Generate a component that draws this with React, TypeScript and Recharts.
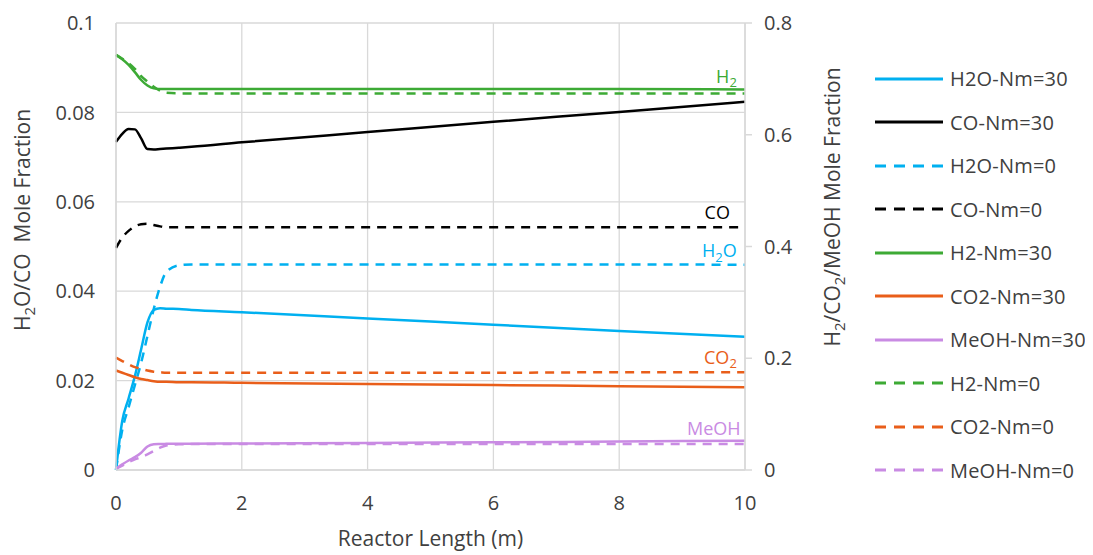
import { LineChart, Line, XAxis, YAxis, CartesianGrid, Legend, ReferenceDot } from 'recharts'

// reactor position (m)
const xPos = [0, 0.1, 0.2, 0.3, 0.4, 0.5, 0.6, 0.7, 0.8, 1, 1.2, 2, 4, 6, 8, 10]

// left axis series (H2O / CO)
const h2o30 = [0, 0.011, 0.016, 0.021, 0.027, 0.033, 0.0358, 0.0362, 0.0361, 0.036, 0.0358, 0.0353, 0.0339, 0.0325, 0.0311, 0.0298]
const h2o0 = [0, 0.009, 0.014, 0.019, 0.024, 0.03, 0.036, 0.041, 0.0443, 0.0458, 0.046, 0.046, 0.046, 0.046, 0.046, 0.0459]
const co30 = [0.0734, 0.0752, 0.0763, 0.0762, 0.0742, 0.0718, 0.0717, 0.0718, 0.0719, 0.0721, 0.0723, 0.0733, 0.0756, 0.0779, 0.0801, 0.0824]
const co0 = [0.0497, 0.052, 0.0535, 0.0545, 0.055, 0.0551, 0.0548, 0.0545, 0.0543, 0.0543, 0.0543, 0.0543, 0.0543, 0.0543, 0.0543, 0.0543]

// right axis series (H2 / CO2 / MeOH)
const h230 = [0.743, 0.735, 0.725, 0.712, 0.698, 0.688, 0.683, 0.682, 0.682, 0.682, 0.682, 0.682, 0.682, 0.682, 0.682, 0.681]
const h20 = [0.743, 0.736, 0.728, 0.718, 0.705, 0.695, 0.686, 0.679, 0.675, 0.674, 0.674, 0.674, 0.674, 0.674, 0.674, 0.674]
const co230 = [0.178, 0.174, 0.17, 0.166, 0.163, 0.161, 0.159, 0.158, 0.158, 0.157, 0.157, 0.156, 0.154, 0.152, 0.15, 0.148]
const co20 = [0.201, 0.195, 0.189, 0.184, 0.181, 0.178, 0.176, 0.175, 0.174, 0.174, 0.174, 0.174, 0.174, 0.174, 0.175, 0.175]
const meoh30 = [0.002, 0.01, 0.017, 0.023, 0.031, 0.042, 0.046, 0.0465, 0.0468, 0.047, 0.047, 0.0475, 0.0485, 0.0495, 0.051, 0.0525]
const meoh0 = [0.002, 0.008, 0.014, 0.019, 0.023, 0.028, 0.034, 0.04, 0.044, 0.046, 0.0465, 0.0465, 0.0465, 0.0465, 0.0465, 0.0465]

const leftTicks = [0, 0.02, 0.04, 0.06, 0.08, 0.1]
const rightTicks = [0, 0.2, 0.4, 0.6, 0.8]
const xTicks = [0, 2, 4, 6, 8, 10]

const CYAN = '#00B0F0'
const BLACK = '#000000'
const GREEN = '#3DAA35'
const ORANGE = '#E95E1A'
const PURPLE = '#C98BE3'

const series = [
  { key: 'h2o30', name: 'H2O-Nm=30', values: h2o30, color: CYAN, dashed: false, axis: 'left' },
  { key: 'co30', name: 'CO-Nm=30', values: co30, color: BLACK, dashed: false, axis: 'left' },
  { key: 'h2o0', name: 'H2O-Nm=0', values: h2o0, color: CYAN, dashed: true, axis: 'left' },
  { key: 'co0', name: 'CO-Nm=0', values: co0, color: BLACK, dashed: true, axis: 'left' },
  { key: 'h230', name: 'H2-Nm=30', values: h230, color: GREEN, dashed: false, axis: 'right' },
  { key: 'co230', name: 'CO2-Nm=30', values: co230, color: ORANGE, dashed: false, axis: 'right' },
  { key: 'meoh30', name: 'MeOH-Nm=30', values: meoh30, color: PURPLE, dashed: false, axis: 'right' },
  { key: 'h20', name: 'H2-Nm=0', values: h20, color: GREEN, dashed: true, axis: 'right' },
  { key: 'co20', name: 'CO2-Nm=0', values: co20, color: ORANGE, dashed: true, axis: 'right' },
  { key: 'meoh0', name: 'MeOH-Nm=0', values: meoh0, color: PURPLE, dashed: true, axis: 'right' },
]

const rows = xPos.map((x, i) => {
  const row: Record<string, number> = { x }
  series.forEach(s => { row[s.key] = s.values[i] })
  return row
})

const FONT = '"Open Sans", "DejaVu Sans", sans-serif'
const TEXT = '#404040'
const GRID = '#d9d9d9'
const tick = { fontSize: 20, fill: TEXT, fontFamily: FONT }

// chemical formula with subscript digits, e.g. "H2O" -> H, 2 (lowered), O
function Formula({ text, small }: { text: string; small: number }) {
  const parts = text.split(/(\d)/).filter(Boolean)
  let shifted = false
  return (
    <>
      {parts.map((p, i) => {
        if (/^\d$/.test(p)) {
          shifted = true
          return <tspan key={i} dy={small * 0.35} fontSize={small}>{p}</tspan>
        }
        const dy = shifted ? -small * 0.35 : undefined
        shifted = false
        return <tspan key={i} dy={dy}>{p}</tspan>
      })}
    </>
  )
}

const tagShape = (label: string, color: string) => (p: any) => (
  <text x={p.cx} y={p.cy} textAnchor="end" fill={color} fontSize={18} fontFamily={FONT}>
    <Formula text={label} small={13} />
  </text>
)

// legend drawn in the series order (not sorted)
function LegendBox() {
  return (
    <div style={{ fontFamily: FONT, fontSize: 20, color: TEXT }}>
      {series.map(s => (
        <div key={s.key} style={{ height: 43.5, display: 'flex', alignItems: 'center' }}>
          <svg width={68} height={6} style={{ marginRight: 7 }}>
            <line x1={0} y1={3} x2={68} y2={3} stroke={s.color} strokeWidth={3} strokeDasharray={s.dashed ? '11 8' : undefined} />
          </svg>
          <span style={{ letterSpacing: 0.2, whiteSpace: 'nowrap' }}>{s.name}</span>
        </div>
      ))}
    </div>
  )
}

export default function App() {
  return (
    <div style={{ width: 1085, height: 547, position: 'relative' }}>
      <LineChart width={1085} height={547} data={rows} margin={{ top: 15, right: 288, left: 38, bottom: 25 }}>
        <CartesianGrid yAxisId="left" stroke={GRID} strokeWidth={1.3} />
        <XAxis
          dataKey="x"
          type="number"
          domain={[0, 10]}
          ticks={xTicks}
          tick={tick}
          tickLine={false}
          tickSize={6}
          tickMargin={20}
          height={60}
          axisLine={{ stroke: GRID, strokeWidth: 1.5 }}
          label={{
            content: ({ viewBox }: any) => (
              <text x={viewBox.x + viewBox.width / 2} y={viewBox.y + 76} textAnchor="middle" fontSize={21} fill={TEXT} fontFamily={FONT}>
                Reactor Length (m)
              </text>
            ),
          }}
        />
        <YAxis
          yAxisId="left"
          domain={[0, 0.1]}
          ticks={leftTicks}
          tick={tick}
          tickLine={false}
          tickSize={6}
          tickMargin={15}
          width={70}
          axisLine={{ stroke: GRID, strokeWidth: 1.5 }}
          label={{
            content: () => (
              <text transform="translate(22,212) rotate(-90)" textAnchor="middle" fontSize={21} fill={TEXT} fontFamily={FONT}>
                <Formula text="H2O/CO" small={15} />
                <tspan>{'\u00a0 Mole Fraction'}</tspan>
              </text>
            ),
          }}
        />
        <YAxis
          yAxisId="right"
          orientation="right"
          domain={[0, 0.8]}
          ticks={rightTicks}
          tick={tick}
          tickLine={{ stroke: GRID, strokeWidth: 1.5 }}
          tickSize={7}
          tickMargin={12}
          width={60}
          axisLine={{ stroke: GRID, strokeWidth: 1.5 }}
          label={{
            content: () => (
              <text transform="translate(832,199) rotate(-90)" textAnchor="middle" fontSize={21} fill={TEXT} fontFamily={FONT}>
                <Formula text="H2/CO2/MeOH" small={15} />
                <tspan>{' Mole Fraction'}</tspan>
              </text>
            ),
          }}
        />
        <Legend
          layout="vertical"
          align="center"
          verticalAlign="middle"
          wrapperStyle={{ left: 867, top: 49, width: 218 }}
          content={<LegendBox />}
        />
        {series.map(s => (
          <Line
            key={s.key}
            yAxisId={s.axis}
            dataKey={s.key}
            name={s.name}
            type="monotone"
            stroke={s.color}
            strokeWidth={2.5}
            strokeDasharray={s.dashed ? '9 7' : undefined}
            dot={false}
            activeDot={false}
            isAnimationActive={false}
          />
        ))}
        <ReferenceDot yAxisId="right" x={9.87} y={0.693} r={0} shape={tagShape('H2', GREEN)} />
        <ReferenceDot yAxisId="left" x={9.76} y={0.0561} r={0} shape={tagShape('CO', BLACK)} />
        <ReferenceDot yAxisId="left" x={9.87} y={0.0476} r={0} shape={tagShape('H2O', CYAN)} />
        <ReferenceDot yAxisId="right" x={9.87} y={0.19} r={0} shape={tagShape('CO2', ORANGE)} />
        <ReferenceDot yAxisId="right" x={9.93} y={0.0626} r={0} shape={tagShape('MeOH', PURPLE)} />
      </LineChart>
    </div>
  )
}
